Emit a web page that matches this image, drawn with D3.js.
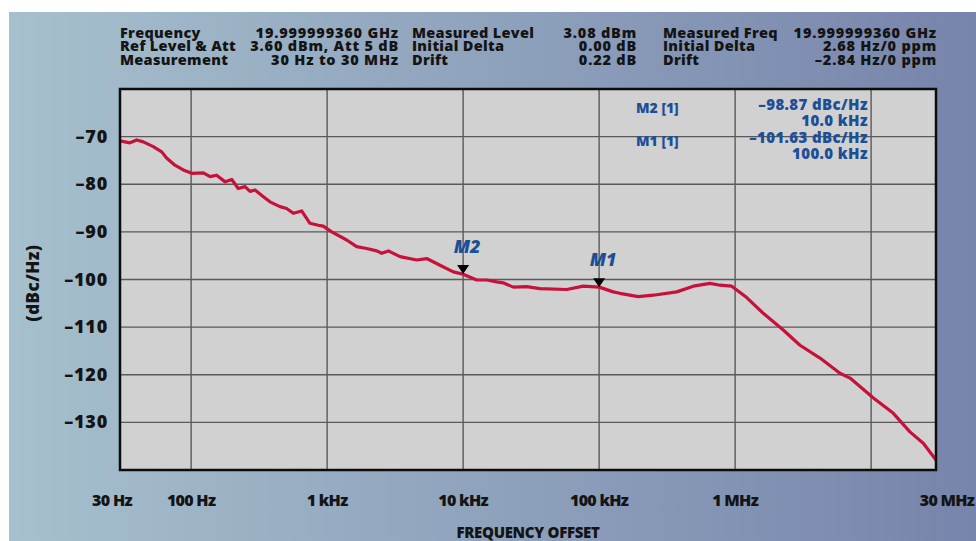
<!DOCTYPE html>
<html>
<head>
<meta charset="utf-8">
<script src="https://cdn.jsdelivr.net/npm/d3@7"></script>
<style>
  body { margin: 0; background: #fff; }
  svg text { font-family: "Open Sans", "Lato", sans-serif; font-weight: 800; }
</style>
</head>
<body>
<div id="chart"></div>
<script>
// phase noise trace
var freqs = [30, 35.5, 39.8, 44.5, 52.7, 60.8, 66, 76, 87.6, 101,
  123, 138, 154, 178, 199, 222, 249, 271, 295, 340,
  380, 450, 504, 564, 650, 748, 861, 936, 1081, 1393,
  1650, 1954, 2316, 2520, 2820, 3436, 4560, 5400, 6760, 8480,
  10000, 12600, 14900, 17670, 19700, 23400, 29300, 36700, 57800, 76400,
  100000, 127000, 142000, 194000, 250000, 372000, 493000, 654000, 774000, 944000,
  1.217e6, 1.61e6, 2.26e6, 3.0e6, 4.21e6, 5.9e6, 7.0e6, 1.04e7, 1.457e7, 1.93e7,
  2.42e7, 3e7];
var levels = [-70.9, -71.3, -70.7, -71.1, -72.1, -73.2, -74.5, -76, -77, -77.7,
  -77.6, -78.4, -78.1, -79.5, -79, -80.9, -80.5, -81.5, -81.2, -82.6,
  -83.7, -84.7, -85.1, -86.1, -85.6, -88.2, -88.6, -88.8, -90, -91.7,
  -93.1, -93.5, -94, -94.5, -94, -95.2, -95.9, -95.6, -97, -98.4,
  -98.9, -100.1, -100.1, -100.5, -100.7, -101.6, -101.5, -101.9, -102.1, -101.4,
  -101.6, -102.6, -102.9, -103.6, -103.3, -102.6, -101.4, -100.8, -101.2, -101.4,
  -103.8, -107.1, -110.6, -113.8, -116.5, -119.7, -120.7, -124.9, -128.1, -132,
  -134.4, -137.9];

var yTicks = [-70, -80, -90, -100, -110, -120, -130];
var xTickVals = [30, 100, 1e3, 1e4, 1e5, 1e6, 3e7];
var xTickLabels = ["30 Hz", "100 Hz", "1 kHz", "10 kHz", "100 kHz", "1 MHz", "30 MHz"];
var gridFreqs = [100, 1e3, 1e4, 1e5, 1e6, 1e7];

var markerNames = ["M2", "M1"];
var markerFreqs = [1e4, 1e5];
var markerLevels = [-98.87, -101.63];
var markerFreqLabels = ["10.0 kHz", "100.0 kHz"];

// header block, three label/value column pairs
var hdrLabels1 = ["Frequency", "Ref Level & Att", "Measurement"];
var hdrValues1 = ["19.999999360 GHz", "3.60 dBm, Att 5 dB", "30 Hz to 30 MHz"];
var hdrLabels2 = ["Measured Level", "Initial Delta", "Drift"];
var hdrValues2 = ["3.08 dBm", "0.00 dB", "0.22 dB"];
var hdrLabels3 = ["Measured Freq", "Initial Delta", "Drift"];
var hdrValues3 = ["19.999999360 GHz", "2.68 Hz/0 ppm", "\u20132.84 Hz/0 ppm"];

var W = 976, H = 541;
var plot = {left: 120, right: 936, top: 89, bottom: 470};

var svg = d3.select("#chart").append("svg")
    .attr("width", W)
    .attr("height", H);

var grad = svg.append("defs").append("linearGradient")
    .attr("id", "bg")
    .attr("x1", "0%").attr("x2", "100%").attr("y1", "0%").attr("y2", "0%");
grad.append("stop").attr("offset", "0%").attr("stop-color", "#a6c0cd");
grad.append("stop").attr("offset", "100%").attr("stop-color", "#7784ab");

svg.append("rect")
    .attr("x", 9).attr("y", 12)
    .attr("width", W - 9).attr("height", H - 12)
    .attr("fill", "url(#bg)");

var x = d3.scaleLog().domain([30, 3e7]).range([plot.left, plot.right]);
var y = d3.scaleLinear().domain([-140, -60]).range([plot.bottom, plot.top]);

svg.append("rect")
    .attr("x", plot.left).attr("y", plot.top)
    .attr("width", plot.right - plot.left)
    .attr("height", plot.bottom - plot.top)
    .attr("fill", "#d1d1d1");

// grid
svg.append("g").selectAll("line")
    .data(gridFreqs)
    .enter().append("line")
    .attr("x1", function(d){ return x(d); })
    .attr("x2", function(d){ return x(d); })
    .attr("y1", plot.top).attr("y2", plot.bottom)
    .attr("stroke", "#5a5a5a").attr("stroke-width", 1.4);

svg.append("g").selectAll("line")
    .data(yTicks)
    .enter().append("line")
    .attr("x1", plot.left).attr("x2", plot.right)
    .attr("y1", function(d){ return y(d); })
    .attr("y2", function(d){ return y(d); })
    .attr("stroke", "#5a5a5a").attr("stroke-width", 1.4);

// y tick labels
svg.append("g").selectAll("text")
    .data(yTicks)
    .enter().append("text")
    .attr("x", 108)
    .attr("y", function(d){ return y(d) + 6; })
    .attr("text-anchor", "end")
    .attr("font-size", 18)
    .attr("letter-spacing", 0.8)
    .attr("fill", "#141414")
    .text(function(d){ return "\u2013" + Math.abs(d); });

svg.append("text")
    .attr("transform", "translate(39,283) rotate(-90)")
    .attr("text-anchor", "middle")
    .attr("font-size", 17)
    .attr("letter-spacing", 0.5)
    .attr("fill", "#141414")
    .text("(dBc/Hz)");

// x tick labels, the end ones pushed outward a little
svg.append("g").selectAll("text")
    .data(xTickVals)
    .enter().append("text")
    .attr("x", function(d, i){
      if (i == 0) return x(d) - 8;
      if (i == xTickVals.length - 1) return x(d) + 11;
      return x(d);
    })
    .attr("y", 506)
    .attr("text-anchor", "middle")
    .attr("font-size", 16)
    .attr("letter-spacing", -0.7)
    .attr("fill", "#141414")
    .text(function(d, i){ return xTickLabels[i]; });

svg.append("text")
    .attr("x", (plot.left + plot.right) / 2)
    .attr("y", 538)
    .attr("text-anchor", "middle")
    .attr("font-size", 15)
    .attr("letter-spacing", -0.3)
    .attr("fill", "#141414")
    .text("FREQUENCY OFFSET");

// trace
var line = d3.line()
    .x(function(d, i){ return x(freqs[i]); })
    .y(function(d){ return y(d); });

svg.append("path")
    .datum(levels)
    .attr("d", line)
    .attr("fill", "none")
    .attr("stroke", "#c6123a")
    .attr("stroke-width", 3.2)
    .attr("stroke-linejoin", "round");

// markers
var mk = svg.append("g").selectAll("g")
    .data(markerNames)
    .enter().append("g")
    .attr("transform", function(d, i){
      return "translate(" + x(markerFreqs[i]) + "," + y(markerLevels[i]) + ")";
    });

mk.append("path")
    .attr("d", "M0,0 L-6,-9 L6,-9 Z")
    .attr("fill", "#000");

mk.append("text")
    .attr("x", 4).attr("y", -21)
    .attr("text-anchor", "middle")
    .attr("font-size", 18)
    .attr("font-style", "italic")
    .attr("fill", "#1d4f97")
    .text(function(d){ return d; });

// marker readout table
var blue = "#1d4f97";
var tbl = svg.append("g").attr("fill", blue);
markerNames.forEach(function(name, i){
  var base = 110 + i * 33;
  tbl.append("text")
      .attr("x", 636).attr("y", base + 3)
      .attr("font-size", 14)
      .text(name + " [1]");
  tbl.append("text")
      .attr("x", 868).attr("y", base)
      .attr("text-anchor", "end")
      .attr("font-size", 15)
      .attr("letter-spacing", 0.4)
      .text("\u2013" + d3.format(".2f")(Math.abs(markerLevels[i])) + " dBc/Hz");
  tbl.append("text")
      .attr("x", 868).attr("y", base + 16)
      .attr("text-anchor", "end")
      .attr("font-size", 15)
      .attr("letter-spacing", 0.4)
      .text(markerFreqLabels[i]);
});

// border on top of everything
svg.append("rect")
    .attr("x", plot.left).attr("y", plot.top)
    .attr("width", plot.right - plot.left)
    .attr("height", plot.bottom - plot.top)
    .attr("fill", "none")
    .attr("stroke", "#0c0c0c")
    .attr("stroke-width", 2.5);

// header
var hdr = svg.append("g").attr("font-size", 14.5).attr("fill", "#141414");
var rowY = [37.5, 51, 64.5];
function hdrCol(texts, xPos, anchor, spacing){
  texts.forEach(function(t, i){
    hdr.append("text")
        .attr("x", xPos).attr("y", rowY[i])
        .attr("text-anchor", anchor)
        .attr("letter-spacing", spacing)
        .text(t);
  });
}
hdrCol(hdrLabels1, 120, "start", 0.3);
hdrCol(hdrValues1, 399, "end", 0.8);
hdrCol(hdrLabels2, 412, "start", 0.3);
hdrCol(hdrValues2, 637, "end", 0.8);
hdrCol(hdrLabels3, 663, "start", 0.3);
hdrCol(hdrValues3, 937, "end", 0.8);
</script>
</body>
</html>
